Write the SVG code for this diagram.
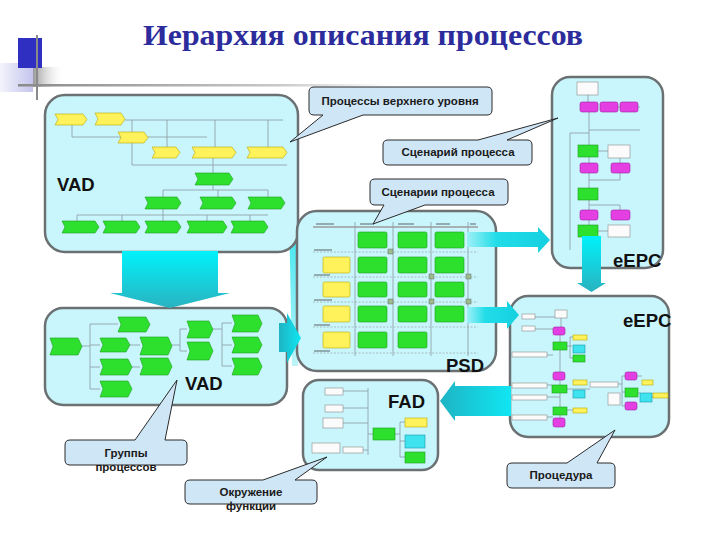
<svg xmlns="http://www.w3.org/2000/svg" width="720" height="540" viewBox="0 0 720 540">
<defs>
<linearGradient id="gDown" x1="0" y1="0" x2="0" y2="1"><stop offset="0" stop-color="#00f2fa"/><stop offset="1" stop-color="#2ab2c0"/></linearGradient>
<linearGradient id="gRight" x1="0" y1="0" x2="1" y2="0"><stop offset="0" stop-color="#9ef0f6"/><stop offset="0.35" stop-color="#22dde8"/><stop offset="1" stop-color="#14d0e0"/></linearGradient>
<linearGradient id="gLeft" x1="0" y1="0" x2="1" y2="0"><stop offset="0" stop-color="#1eb4c4"/><stop offset="1" stop-color="#10e6f2"/></linearGradient>
<linearGradient id="gLav" x1="0" y1="0" x2="1" y2="0"><stop offset="0" stop-color="#f4f4fc"/><stop offset="1" stop-color="#c4c4ee"/></linearGradient>
<linearGradient id="gGrayBox" x1="0" y1="0" x2="1" y2="0"><stop offset="0" stop-color="#9a9a9a"/><stop offset="1" stop-color="#ffffff" stop-opacity="0"/></linearGradient>
<linearGradient id="gLine" x1="0" y1="0" x2="1" y2="0"><stop offset="0" stop-color="#8a8a8a"/><stop offset="0.7" stop-color="#c8c8c8"/><stop offset="1" stop-color="#ffffff"/></linearGradient>
<linearGradient id="gStrip" x1="0" y1="0" x2="0" y2="1"><stop offset="0" stop-color="#30e6f0"/><stop offset="1" stop-color="#bff4f8"/></linearGradient>
<style>
.panel{fill:#c9f6fc;stroke:#6b7172;stroke-width:2.5}
.co{fill:#cfe6f7;stroke:#2a2a2a;stroke-width:1}
.cot{font-family:"Liberation Sans",Arial,sans-serif;font-weight:bold;font-size:11.5px;fill:#1a1a1a;text-anchor:middle}
.big{font-family:"Liberation Sans",Arial,sans-serif;font-weight:bold;font-size:18.5px;fill:#111}
.g{fill:#2ee02e;stroke:#1b9e1b;stroke-width:0.6}
.y{fill:#fff25a;stroke:#b8a800;stroke-width:0.6}
.m{fill:#e33fe3;stroke:#a020a0;stroke-width:0.6}
.c{fill:#3fe3f0;stroke:#1a9aa8;stroke-width:0.6}
.w{fill:#fbfbfb;stroke:#8a8a8a;stroke-width:0.6}
.ln{stroke:#8c9aa0;stroke-width:0.8;fill:none}
.dl{stroke:#9aa6aa;stroke-width:0.7;fill:none;stroke-dasharray:2 1.5}
.lb{stroke:#5a6468;stroke-width:1.2;fill:none}
.ic{fill:#9cbc8c;stroke:#556;stroke-width:0.4}
</style>
</defs>
<rect width="720" height="540" fill="#ffffff"/>
<g id="decor">
<rect x="0" y="63" width="33" height="29" fill="url(#gLav)"/>
<rect x="33" y="67" width="32" height="20" fill="url(#gGrayBox)"/>
<rect x="18" y="38" width="24" height="30" fill="#2f2fc2"/>
<rect x="18" y="84" width="370" height="2.5" fill="url(#gLine)"/>
<rect x="36" y="35" width="2" height="65" fill="#8a8a8a"/>
<polygon points="289,212 298,212 298,366 292,366" fill="url(#gStrip)"/>
</g>
<text id="title" x="363" y="45" text-anchor="middle" textLength="440" lengthAdjust="spacingAndGlyphs" font-family="'Liberation Serif','Times New Roman',serif" font-weight="bold" font-size="30" fill="#2c2c9c">Иерархия описания процессов</text>
<g id="vad-top">
<rect class="panel" x="45" y="95" width="253" height="157" rx="20"/>
<path class="ln" d="M72,125 V137 H207 M125,120 H283 M132,120 V165 M167,120 V147 M215,120 V147 M268,120 V147 M132,165 H287 M213,158 V173 M213,185 V190 M163,190 H268 M163,190 V197 M218,190 V197 M268,190 V197 M163,209 V215 M77,215 H268 M77,215 V221 M122,215 V221 M163,215 V221 M207,215 V221 M250,215 V221"/>
<polygon class="y" points="55,114 83,114 87,119.5 83,125 55,125 58,119.5"/>
<polygon class="y" points="95,113 121,113 125,119 121,125 95,125 98,119"/>
<polygon class="y" points="118,132 144,132 148,137.5 144,143 118,143 121,137.5"/>
<polygon class="y" points="152,147 176,147 180,152.5 176,158 152,158 155,152.5"/>
<polygon class="y" points="192,147 232,147 236,152.5 232,158 192,158 195,152.5"/>
<polygon class="y" points="247,147 283,147 287,152.5 283,158 247,158 250,152.5"/>
<polygon class="g" points="195,173 229,173 233,179 229,185 195,185 198,179"/>
<polygon class="g" points="145,197 177,197 181,203 177,209 145,209 148,203"/>
<polygon class="g" points="200,197 232,197 236,203 232,209 200,209 203,203"/>
<polygon class="g" points="248,197 281,197 285,203 281,209 248,209 251,203"/>
<polygon class="g" points="62,221 95,221 99,227 95,233 62,233 65,227"/>
<polygon class="g" points="103,221 136,221 140,227 136,233 103,233 106,227"/>
<polygon class="g" points="145,221 177,221 181,227 177,233 145,233 148,227"/>
<polygon class="g" points="187,221 223,221 227,227 223,233 187,233 190,227"/>
<polygon class="g" points="231,221 264,221 268,227 264,233 231,233 234,227"/>
<text class="big" x="57" y="191">VAD</text>
</g>
<g id="vad-bottom">
<rect class="panel" x="45" y="308" width="242" height="97" rx="18"/>
<path class="ln" d="M82,346 H90 M90,324 V389 M90,324 H118 M90,345 H100 M90,367 H100 M90,389 H100 M130,345 H140 M132,367 H140 M172,345 H180 M180,329 V351 M180,329 H187 M180,351 H187 M213,329 H222 M222,323 V366 M222,323 H232 M222,345 H232 M222,366 H232"/>
<polygon class="g" points="118,317 146,317 150,324.5 146,332 118,332 121,324.5"/>
<polygon class="g" points="50,338 78,338 82,346.5 78,355 50,355 53,346.5"/>
<polygon class="g" points="100,338 126,338 130,345 126,352 100,352 103,345"/>
<polygon class="g" points="140,337 168,337 172,346 168,355 140,355 143,346"/>
<polygon class="g" points="100,359 128,359 132,367 128,375 100,375 103,367"/>
<polygon class="g" points="140,358 168,358 172,366.5 168,375 140,375 143,366.5"/>
<polygon class="g" points="100,381 128,381 132,389 128,397 100,397 103,389"/>
<polygon class="g" points="187,321 209,321 213,329.5 209,338 187,338 190,329.5"/>
<polygon class="g" points="187,342 209,342 213,351 209,360 187,360 190,351"/>
<polygon class="g" points="232,315 258,315 262,323.5 258,332 232,332 235,323.5"/>
<polygon class="g" points="232,337 258,337 262,345 258,353 232,353 235,345"/>
<polygon class="g" points="232,358 258,358 262,366.5 258,375 232,375 235,366.5"/>
<text class="big" x="185" y="390">VAD</text>
</g>
<g id="psd">
<rect class="panel" x="297" y="211" width="199" height="160" rx="20"/>
<path d="M313,227 H478" stroke="#a8b2b4" stroke-width="2" fill="none"/>
<path class="dl" d="M313,252 H478 M313,277 H478 M313,302 H478 M313,327 H478 M313,353 H478"/>
<path class="ln" d="M355,222 V356 M393,222 V356 M431,222 V356 M468,222 V356"/>
<path class="lb" d="M316,224 H334 M360,224 H374 M398,224 H414 M436,224 H450 M470,224 H476 M314,250 H332 M314,275 H330 M314,300 H332 M314,325 H330 M314,351 H330"/>
<rect class="g" x="358" y="232" width="29" height="16" rx="1.5"/>
<rect class="g" x="398" y="232" width="29" height="16" rx="1.5"/>
<rect class="g" x="435" y="232" width="29" height="16" rx="1.5"/>
<rect class="y" x="323" y="257" width="27" height="16" rx="1.5"/>
<rect class="g" x="358" y="257" width="29" height="16" rx="1.5"/>
<rect class="g" x="398" y="257" width="29" height="16" rx="1.5"/>
<rect class="g" x="435" y="257" width="29" height="16" rx="1.5"/>
<rect class="y" x="323" y="282" width="27" height="15" rx="1.5"/>
<rect class="g" x="358" y="282" width="29" height="15" rx="1.5"/>
<rect class="g" x="398" y="282" width="29" height="15" rx="1.5"/>
<rect class="g" x="435" y="282" width="29" height="15" rx="1.5"/>
<rect class="y" x="323" y="306" width="27" height="16" rx="1.5"/>
<rect class="g" x="358" y="306" width="29" height="16" rx="1.5"/>
<rect class="g" x="398" y="306" width="29" height="16" rx="1.5"/>
<rect class="g" x="435" y="306" width="29" height="16" rx="1.5"/>
<rect class="y" x="323" y="332" width="27" height="16" rx="1.5"/>
<rect class="g" x="358" y="332" width="29" height="16" rx="1.5"/>
<rect class="g" x="398" y="332" width="29" height="16" rx="1.5"/>
<rect class="ic" x="388" y="249" width="5" height="5"/>
<rect class="ic" x="429" y="274" width="5" height="5"/>
<rect class="ic" x="466" y="274" width="5" height="5"/>
<rect class="ic" x="388" y="299" width="5" height="5"/>
<rect class="ic" x="429" y="299" width="5" height="5"/>
<rect class="ic" x="466" y="299" width="5" height="5"/>
<text class="big" x="446" y="372">PSD</text>
</g>
<g id="eepc-top">
<rect class="panel" x="552" y="77" width="111" height="191" rx="18"/>
<path class="ln" d="M588,95 V102 M589,112 V145 M589,130 H640 M570,133 H589 M570,133 V250 M598,151 H608 M589,157 V163 M620,158 V163 M589,173 V188 M620,173 V180 H589 M589,200 V210 M620,205 H589 M620,205 V210 M589,220 V225 M598,231 H608 M608,107 H640"/>
<rect class="w" x="577" y="82" width="21" height="13"/>
<rect class="m" x="580" y="102" width="18" height="10" rx="2"/>
<rect class="m" x="600" y="102" width="18" height="10" rx="2"/>
<rect class="m" x="620" y="102" width="18" height="10" rx="2"/>
<rect class="g" x="578" y="145" width="20" height="12"/>
<rect class="w" x="608" y="145" width="22" height="13"/>
<rect class="m" x="580" y="163" width="18" height="10" rx="2"/>
<rect class="m" x="611" y="163" width="19" height="10" rx="2"/>
<rect class="g" x="578" y="188" width="20" height="12"/>
<rect class="m" x="580" y="210" width="18" height="10" rx="2"/>
<rect class="m" x="611" y="210" width="19" height="10" rx="2"/>
<rect class="g" x="578" y="225" width="20" height="12"/>
<rect class="w" x="608" y="225" width="22" height="12"/>
<text class="big" x="613" y="267">eEPC</text>
</g>
<g id="eepc-bottom">
<rect class="panel" x="510" y="296" width="159" height="141" rx="18"/>
<path class="ln" d="M535,317 H555 M535,329 H553 M561,318 V327 M560,335 V418 M567,346 H572 M570,337 V358 M570,337 H573 M570,358 H573 M547,355 H553 M547,385 H552 M547,397 H560 M547,417 H553 M567,389 H590 M618,384 H622 M622,376 V406 M622,376 H625 M622,392 H625 M622,406 H625 M637,376 H642 M638,393 H640 M652,397 H653 M567,410 H573"/>
<rect class="w" x="555" y="310" width="12" height="8"/>
<rect class="w" x="522" y="314" width="13" height="5"/>
<rect class="w" x="522" y="326" width="13" height="5"/>
<rect class="m" x="553" y="327" width="12" height="8" rx="2"/>
<rect class="g" x="553" y="342" width="14" height="8"/>
<rect class="y" x="573" y="335" width="14" height="5"/>
<rect class="c" x="573" y="345" width="12" height="8"/>
<rect class="g" x="573" y="355" width="12" height="7"/>
<rect class="w" x="512" y="352" width="35" height="5"/>
<rect class="m" x="553" y="372" width="12" height="8" rx="2"/>
<rect class="g" x="552" y="385" width="15" height="8"/>
<rect class="y" x="573" y="380" width="14" height="5"/>
<rect class="c" x="573" y="390" width="12" height="8"/>
<rect class="w" x="512" y="383" width="35" height="5"/>
<rect class="w" x="512" y="395" width="35" height="5"/>
<rect class="g" x="553" y="407" width="14" height="8"/>
<rect class="y" x="573" y="408" width="14" height="5"/>
<rect class="m" x="553" y="418" width="12" height="9" rx="2"/>
<rect class="w" x="512" y="415" width="35" height="5"/>
<rect class="w" x="590" y="382" width="28" height="5"/>
<rect class="w" x="608" y="393" width="12" height="12"/>
<rect class="m" x="625" y="372" width="12" height="8" rx="2"/>
<rect class="y" x="642" y="380" width="11" height="5"/>
<rect class="g" x="625" y="388" width="13" height="9"/>
<rect class="c" x="640" y="393" width="12" height="9"/>
<rect class="y" x="653" y="393" width="15" height="5"/>
<rect class="m" x="625" y="402" width="12" height="8" rx="2"/>
<text class="big" x="623" y="327">eEPC</text>
</g>
<g id="fad">
<rect class="panel" x="303" y="380" width="135" height="90" rx="16"/>
<path class="ln" d="M343,391 H368 M343,408 H368 M343,423 H368 M363,450 H368 M368,388 V455 M368,434 H373 M395,434 H400 M400,422 V457 M400,422 H405 M400,441 H405 M400,457 H405"/>
<rect class="w" x="325" y="388" width="18" height="7"/>
<rect class="w" x="325" y="405" width="18" height="7"/>
<rect class="w" x="323" y="418" width="20" height="10"/>
<rect class="w" x="312" y="443" width="28" height="10"/>
<rect class="w" x="343" y="447" width="20" height="6"/>
<rect class="g" x="373" y="428" width="22" height="12"/>
<rect class="y" x="405" y="418" width="22" height="9"/>
<rect class="c" x="405" y="435" width="20" height="13"/>
<rect class="g" x="405" y="452" width="20" height="11"/>
<text class="big" x="388" y="408">FAD</text>
</g>
<g id="connectors">
<polygon points="122,251 218,251 218,293 230,293 170,308 110,293 122,293" fill="url(#gDown)"/>
<polygon points="467,232 538,232 538,227 550,240 538,253 538,247 467,247" fill="url(#gRight)"/>
<polygon points="467,307 507,307 507,301 519,315 507,329 507,323 467,323" fill="url(#gRight)"/>
<polygon points="582,236 601,236 601,283 606,283 591.5,292 577,283 582,283" fill="url(#gDown)"/>
<polygon points="511,386 455,386 455,381 440,401 455,421 455,416 511,416" fill="url(#gLeft)"/>
<polygon points="279,323 287,323 287,313 301,338 287,363 287,352 279,352" fill="url(#gLeft)"/>
</g>
<g id="callout-top-level">
<path class="co" d="M314,87 H487 Q492,87 492,92 V110 Q492,115 487,115 H363 L290,142 L323,115 H314 Q309,115 309,110 V92 Q309,87 314,87 Z"/>
<text class="cot" x="400" y="105">Процессы верхнего уровня</text>
</g>
<g id="callout-scenario">
<path class="co" d="M388,140 H478 L558,118 L507,140 H527 Q532,140 532,145 V160 Q532,165 527,165 H388 Q383,165 383,160 V145 Q383,140 388,140 Z"/>
<text class="cot" x="458" y="156">Сценарий процесса</text>
</g>
<g id="callout-scenarios">
<path class="co" d="M375,179 H503 Q508,179 508,184 V200 Q508,205 503,205 H425 L373,224 L384,205 H375 Q370,205 370,200 V184 Q370,179 375,179 Z"/>
<text class="cot" x="438" y="196">Сценарии процесса</text>
</g>
<g id="callout-groups">
<path class="co" d="M70,440 H135 L177,380 L165,440 H182 Q187,440 187,445 V460 Q187,465 182,465 H70 Q65,465 65,460 V445 Q65,440 70,440 Z"/>
<text class="cot" x="126" y="457">Группы</text>
<text class="cot" x="126" y="471">процессов</text>
</g>
<g id="callout-environment">
<path class="co" d="M190,480 H263 L327,457 L295,480 H312 Q317,480 317,485 V499 Q317,504 312,504 H190 Q185,504 185,499 V485 Q185,480 190,480 Z"/>
<text class="cot" x="251" y="496">Окружение</text>
<text class="cot" x="251" y="510">функции</text>
</g>
<g id="callout-procedure">
<path class="co" d="M512,463 H567 L615,430 L597,463 H610 Q615,463 615,468 V483 Q615,488 610,488 H512 Q507,488 507,483 V468 Q507,463 512,463 Z"/>
<text class="cot" x="561" y="479">Процедура</text>
</g>
</svg>
